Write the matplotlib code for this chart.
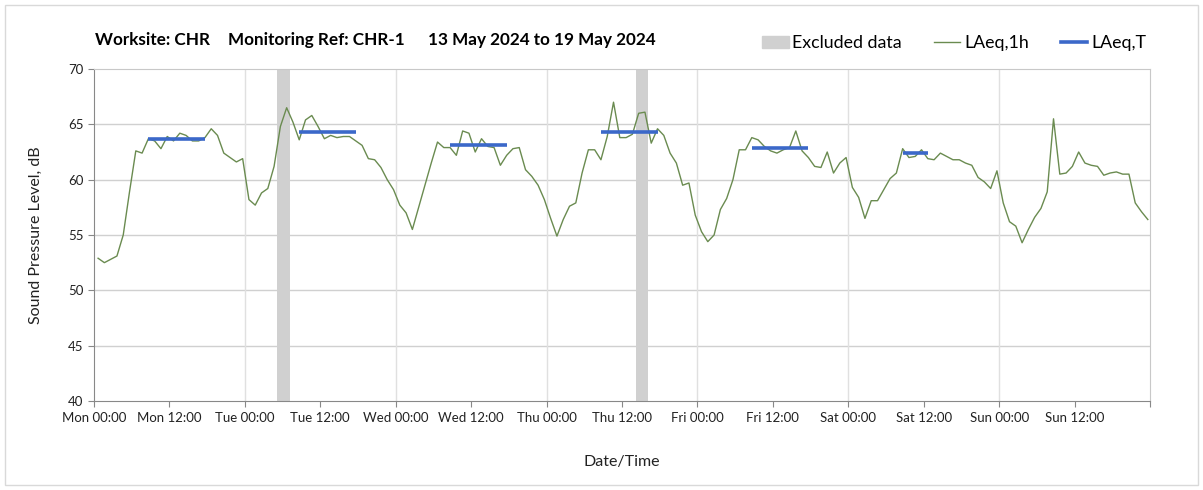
import numpy as np
import matplotlib.pyplot as plt
from matplotlib.patches import Patch, Rectangle
from matplotlib.lines import Line2D

plt.rcParams['font.family'] = ['Lato', 'DejaVu Sans']

# hourly LAeq,1h values, Mon 00:00 -> Sun 23:00
laeq_1h = [
    52.9, 52.5, 52.8, 53.1, 55.0, 58.9, 62.6, 62.4, 63.7, 63.5,
    62.8, 63.9, 63.5, 64.2, 64.0, 63.5, 63.5, 63.8, 64.6, 64.0,
    62.4, 62.0, 61.6, 61.9, 58.2, 57.7, 58.8, 59.2, 61.2, 64.8,
    66.5, 65.2, 63.6, 65.4, 65.8, 64.8, 63.7, 64.0, 63.8, 63.9,
    63.9, 63.5, 63.1, 61.9, 61.8, 61.1, 60.0,
    59.1, 57.7, 57.0, 55.5, 57.5, 59.5, 61.5, 63.4, 62.9, 62.9,
    62.2, 64.4, 64.2, 62.5, 63.7, 63.0, 62.9, 61.3, 62.2, 62.8,
    62.9, 60.9, 60.3, 59.5, 58.2, 56.5, 54.9, 56.4, 57.6, 57.9,
    60.6, 62.7, 62.7, 61.8, 63.9, 67.0, 63.8, 63.8, 64.1, 66.0,
    66.1, 63.3, 64.6, 64.0, 62.4, 61.5,
    59.5, 59.7, 56.8, 55.3, 54.4, 55.0, 57.3, 58.3, 60.0, 62.7,
    62.7, 63.8, 63.6, 63.0, 62.6, 62.4, 62.7, 62.9, 64.4, 62.6,
    62.0, 61.2, 61.1, 62.5, 60.6, 61.5, 62.0, 59.3, 58.4, 56.5,
    58.1, 58.1, 59.1, 60.1, 60.6, 62.8, 62.0, 62.1, 62.7, 61.9,
    61.8, 62.4, 62.1, 61.8, 61.8, 61.5,
    61.3, 60.2, 59.8, 59.2, 60.8, 57.9, 56.2, 55.8, 54.3, 55.5,
    56.6, 57.4, 58.9, 65.5, 60.5, 60.6, 61.2, 62.5, 61.5, 61.3,
    61.2, 60.4, 60.6, 60.7, 60.5, 60.5, 57.9, 57.1, 56.4,
]
hours = np.arange(len(laeq_1h)) + 0.65

# LAeq,T periods (first hour index, last hour index, level)
period_start = [8, 32, 56, 80, 104, 128]
period_end = [17, 41, 65, 89, 113, 132]
period_level = [63.7, 64.3, 63.1, 64.3, 62.9, 62.4]

# excluded data (hours from Mon 00:00)
excl_start = [29.1, 86.2]
excl_end = [31.2, 88.1]

days = ['Mon', 'Tue', 'Wed', 'Thu', 'Fri', 'Sat', 'Sun']
tick_labels = [f'{d} {t}' for d in days for t in ['00:00', '12:00']]

fig = plt.figure(figsize=(12.03, 4.9), dpi=100)
fig.patches.append(Rectangle((5 / 1203, 5 / 490), 1193 / 1203, 480 / 490, transform=fig.transFigure,
                             fill=False, edgecolor='#d9d9d9', lw=1))
ax = fig.add_axes([94 / 1203, 1 - 401 / 490, (1150 - 94) / 1203, (401 - 69) / 490])

for s, e in zip(excl_start, excl_end):
    ax.axvspan(s, e, color='#d0d0d0', lw=0, zorder=1)
ax.plot(hours, laeq_1h, color='#6a8b50', lw=1.0, zorder=3)
ax.hlines(period_level, hours[period_start], hours[period_end], color='#3b68c9', lw=2.6, zorder=4)

ax.set_xlim(0, 168)
ax.set_ylim(40, 70)
ax.set_yticks(np.arange(40, 71, 5))
ax.set_xticks(np.arange(0, 169, 12))
ax.set_xticklabels(tick_labels + [''])
ax.tick_params(axis='both', direction='out', length=4, color='#888888', labelsize=9.5, labelcolor='#222222')
ax.tick_params(axis='x', pad=4)

for y in range(45, 70, 5):
    ax.axhline(y, color='#d0d0d0', lw=1.0, zorder=0)
for x in range(24, 168, 24):
    ax.axvline(x, color='#e0e0e0', lw=1.0, zorder=0)

for side in ['left', 'bottom']:
    ax.spines[side].set_color('#888888')
for side in ['top', 'right']:
    ax.spines[side].set_color('#c8c8c8')

ax.set_ylabel('Sound Pressure Level, dB', fontsize=11.5, color='#222222', labelpad=18)
ax.set_xlabel('Date/Time', fontsize=11.5, color='#222222', labelpad=22)

ty = 1 - 40 / 490
fig.text(95 / 1203, ty, 'Worksite: CHR', fontsize=12.3, weight='bold', va='center')
fig.text(228 / 1203, ty, 'Monitoring Ref: CHR-1', fontsize=12.3, weight='bold', va='center')
fig.text(428 / 1203, ty, '13 May 2024 to 19 May 2024', fontsize=12.3, weight='bold', va='center')

handles = [Patch(color='#d0d0d0', label='Excluded data'),
           Line2D([], [], color='#6a8b50', lw=1.0, label='LAeq,1h'),
           Line2D([], [], color='#3b68c9', lw=2.6, label='LAeq,T')]
fig.legend(handles=handles, ncol=3, frameon=False, loc='center right',
           bbox_to_anchor=(1162 / 1203, 1 - 43 / 490), fontsize=12.8,
           handlelength=1.5, handletextpad=0.2, columnspacing=1.8, handleheight=0.7)

fig.savefig('out.png', dpi=100)
